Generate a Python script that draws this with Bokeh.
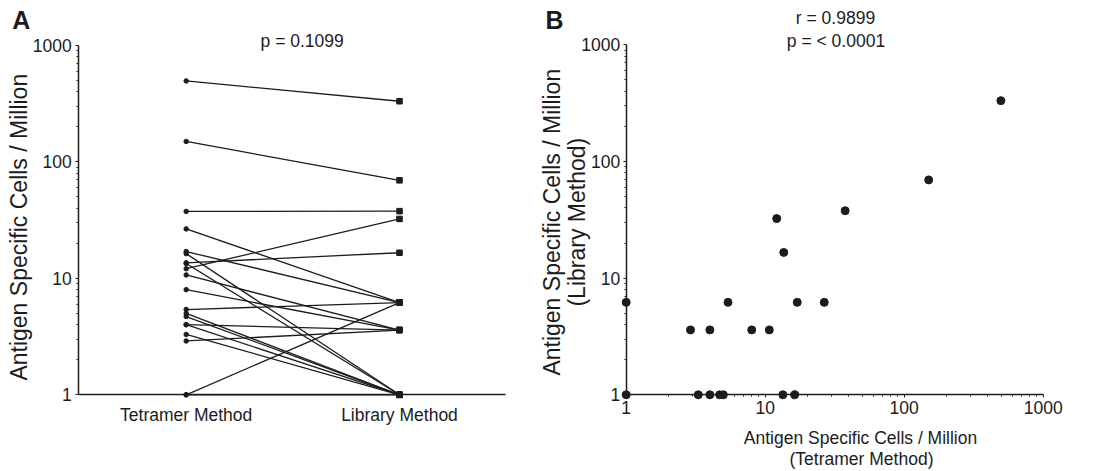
import math
from bokeh.plotting import figure
from bokeh.layouts import row
from bokeh.models import Label, FixedTicker, Range1d, PrintfTickFormatter
from bokeh.embed import file_html
from bokeh.resources import INLINE

# ---------------- data ----------------
methods = ["Tetramer Method", "Library Method"]
tetramer = [1, 1, 2.9, 4.0, 3.3, 4.0, 4.7, 5.0, 5.4, 8.0, 10.7, 12.1, 13.6, 13.4, 16.3, 17.0, 26.6, 37.6, 150, 496]
library = [6.2, 1, 3.6, 3.6, 1, 1, 1, 1, 6.2, 3.6, 3.6, 32.4, 16.6, 1, 1, 6.2, 6.2, 37.8, 69.5, 332]
major_ticks = [1, 10, 100, 1000]
p_text_a = "p = 0.1099"
r_text_b = "r = 0.9899"
p_text_b = "p = < 0.0001"
y_title = "Antigen Specific Cells / Million"

FONT = "Liberation Sans"
INK = "#1c1c1c"
minor = [m * d for d in (1, 10, 100) for m in range(2, 10)]
H = 471
K = 0.35  # empirical baseline correction (fraction of font size)


def style_axis(ax, tick_out=3, standoff=4):
    ax.axis_line_color = INK
    ax.axis_line_width = 1.5
    ax.major_tick_line_color = INK
    ax.major_tick_line_width = 1
    ax.minor_tick_line_color = INK
    ax.minor_tick_line_width = 1
    ax.major_tick_in = 0
    ax.major_tick_out = tick_out
    ax.minor_tick_in = 0
    ax.minor_tick_out = 2
    ax.major_label_text_font = FONT
    ax.major_label_text_font_size = "17.5px"
    ax.major_label_text_color = INK
    ax.major_label_standoff = standoff


def lab(p, cx, cy, text, size=17.5, align="center", bold=False, rotated=False):
    # cx, cy: canvas pixels of the baseline anchor from the figure's top-left corner
    if rotated:
        cx -= K * size
    else:
        cy -= K * size
    p.add_layout(Label(x=cx, y=H - cy, x_units="screen", y_units="screen", text=text,
                       text_font=FONT, text_font_size=f"{size}px", text_color=INK,
                       text_align=align, text_baseline="alphabetic",
                       angle=math.pi / 2 if rotated else 0.0,
                       text_font_style="bold" if bold else "normal"))


def bare(p):
    p.outline_line_color = None
    p.xgrid.visible = False
    p.ygrid.visible = False
    p.background_fill_color = "white"
    p.border_fill_color = "white"


# ---------------- panel A ----------------
A_W = 540
a_x0_px, a_x1_px = 185.7, 399.0          # pixel of category 0 and 1
a_per = a_x1_px - a_x0_px
a_axis_px, a_end_px = 78.3, 505.0
a_xlo = (0 - a_x0_px) / a_per
a_xhi = (A_W - a_x0_px) / a_per
a_per_dec = (394.3 - 45) / 3
a_ylo = 10 ** (-(H - 394.3) / a_per_dec)
a_yhi = 10 ** (3 + 45 / a_per_dec)

pA = figure(width=A_W, height=H, x_range=Range1d(a_xlo, a_xhi),
            y_axis_type="log", y_range=Range1d(a_ylo, a_yhi),
            output_backend="svg", toolbar_location=None,
            min_border_left=0, min_border_right=0,
            min_border_top=0, min_border_bottom=0)
bare(pA)
cat_pos = list(range(len(methods)))
ya = pA.yaxis[0]
style_axis(ya, 3, 4)
ya.ticker = FixedTicker(ticks=major_ticks, minor_ticks=minor)
ya.formatter = PrintfTickFormatter(format="%d")
ya.bounds = (1, 1000)
ya.fixed_location = (a_axis_px - a_x0_px) / a_per

xa = pA.xaxis[0]
style_axis(xa, 0, 10)
xa.major_tick_line_color = None
xa.minor_tick_line_color = None
xa.ticker = FixedTicker(ticks=cat_pos, minor_ticks=[])
xa.major_label_overrides = {i: m for i, m in zip(cat_pos, methods)}
xa.bounds = ((a_axis_px - a_x0_px) / a_per, (a_end_px - a_x0_px) / a_per)
xa.fixed_location = 1

xs = [[cat_pos[0], cat_pos[1]] for _ in tetramer]
ys = [[t, l] for t, l in zip(tetramer, library)]
pA.multi_line(xs=xs, ys=ys, line_color=INK, line_width=1.3)
pA.scatter(x=[cat_pos[0]] * len(tetramer), y=tetramer, marker="circle", size=4.5, color=INK)
pA.scatter(x=[cat_pos[1]] * len(library), y=library, marker="square", size=5.5, color=INK)

lab(pA, 11.7, 28.3, "A", size=25, align="left", bold=True)
lab(pA, 301.7, 46.7, p_text_a)
lab(pA, 27, 226.7, y_title, size=23, rotated=True)

# ---------------- panel B ----------------
B_X0 = 540
B_W = 563
bx1, bx1000 = 625.7 - B_X0, 1042.7 - B_X0
b_per_x = (bx1000 - bx1) / 3
b_xlo = 10 ** (-bx1 / b_per_x)
b_xhi = 10 ** (3 + (B_W - bx1000) / b_per_x)
by1, by1000 = 394.3, 44.3
b_per_y = (by1 - by1000) / 3
b_ylo = 10 ** (-(H - by1) / b_per_y)
b_yhi = 10 ** (3 + by1000 / b_per_y)

pB = figure(width=B_W, height=H, x_axis_type="log", y_axis_type="log",
            x_range=Range1d(b_xlo, b_xhi), y_range=Range1d(b_ylo, b_yhi),
            output_backend="svg", toolbar_location=None,
            min_border_left=0, min_border_right=0,
            min_border_top=0, min_border_bottom=0)
bare(pB)
for ax in (pB.xaxis[0], pB.yaxis[0]):
    style_axis(ax, 3, 3)
    ax.ticker = FixedTicker(ticks=major_ticks, minor_ticks=minor)
    ax.formatter = PrintfTickFormatter(format="%d")
    ax.bounds = (1, 1000)
    ax.fixed_location = 1

pB.scatter(x=tetramer, y=library, marker="circle", size=8, color=INK)

ox = B_X0
lab(pB, 545 - ox, 28.3, "B", size=25, align="left", bold=True)
lab(pB, 835 - ox, 24, r_text_b)
lab(pB, 835.5 - ox, 46.7, p_text_b)
lab(pB, 560 - ox, 221.7, y_title, size=23, rotated=True)
lab(pB, 585 - ox, 221.7, "(Library Method)", size=23, rotated=True)
lab(pB, 860 - ox, 443.3, y_title)
lab(pB, 861 - ox, 465, "(Tetramer Method)")

layout = row(pA, pB)
open("out.html", "w").write(file_html(layout, INLINE))
